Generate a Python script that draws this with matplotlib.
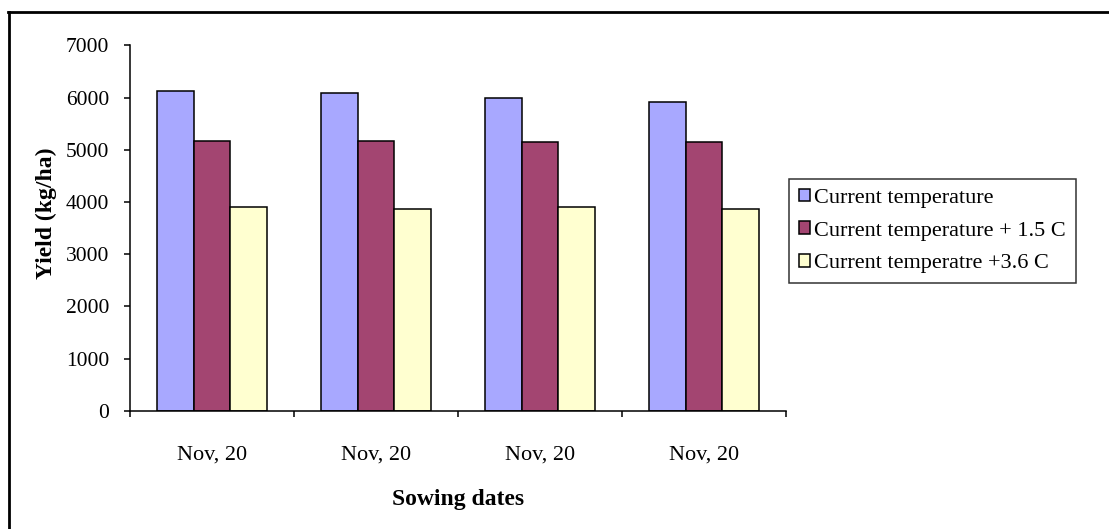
import numpy as np
import matplotlib
matplotlib.use('Agg')
import matplotlib.pyplot as plt
from matplotlib.lines import Line2D

# Yield per sowing date under three temperature scenarios
sowing_dates = ['Nov, 20', 'Nov, 20', 'Nov, 20', 'Nov, 20']
current_temp = [6130, 6080, 5990, 5910]
temp_plus_1_5 = [5170, 5170, 5140, 5140]
temp_plus_3_6 = [3910, 3870, 3910, 3870]

series_labels = ['Current temperature',
                 'Current temperature + 1.5 C',
                 'Current temperatre +3.6 C']
series_colors = ['#A8A8FF', '#A34571', '#FFFFD0']

plt.rcParams['font.family'] = ['Liberation Serif', 'DejaVu Serif']

fig = plt.figure(figsize=(11.09, 5.29), dpi=100)
ax = fig.add_axes([0.1172, 0.2231, 0.5915, 0.6913])

x = np.arange(len(sowing_dates))
bar_w = 0.667 / 3
for i, (vals, lab, col) in enumerate(zip([current_temp, temp_plus_1_5, temp_plus_3_6],
                                         series_labels, series_colors)):
    ax.bar(x + (i - 1) * bar_w, vals, width=bar_w, color=col,
           edgecolor='black', linewidth=1.1, label=lab)

ax.set_xlim(-0.5, len(sowing_dates) - 0.5)
ax.set_ylim(0, 7000)
ax.set_yticks(range(0, 7001, 1000))

# category boundaries get the tick marks, centres get the labels
ax.set_xticks(np.arange(-0.5, len(sowing_dates), 1.0))
ax.set_xticklabels([])
ax.set_xticks(x, minor=True)
ax.set_xticklabels(sowing_dates, minor=True)
ax.tick_params(axis='x', which='major', direction='out', length=4, width=1.1)
ax.tick_params(axis='x', which='minor', length=0, pad=25, labelsize=16)
ax.tick_params(axis='y', direction='out', length=4, width=1.1, pad=11, labelsize=15.5)

for side in ['top', 'right']:
    ax.spines[side].set_visible(False)
for side in ['left', 'bottom']:
    ax.spines[side].set_linewidth(1.1)

ax.set_xlabel('Sowing dates', fontsize=17, fontweight='bold')
ax.xaxis.set_label_coords(0.5, -0.213)
ax.set_ylabel('Yield (kg/ha)', fontsize=17, fontweight='bold')
ax.yaxis.set_label_coords(-0.111, 0.541)

leg = ax.legend(loc='upper left', bbox_to_anchor=(789 / 1109, 1 - 179 / 529),
                bbox_transform=fig.transFigure, borderaxespad=0,
                fontsize=16, frameon=True, fancybox=False, shadow=False,
                handlelength=0.5, handleheight=0.5, handletextpad=0.2,
                labelspacing=0.6, borderpad=0.44)
leg.get_frame().set_edgecolor('black')
leg.get_frame().set_linewidth(1.1)

# outer frame of the chart area
fig.add_artist(Line2D([8 / 1109, 1.0], [1 - 11.5 / 529, 1 - 11.5 / 529],
                      transform=fig.transFigure, color='black', linewidth=2))
fig.add_artist(Line2D([8.5 / 1109, 8.5 / 1109], [0.0, 1 - 11.5 / 529],
                      transform=fig.transFigure, color='black', linewidth=2))

fig.savefig('out.png', dpi=100)
